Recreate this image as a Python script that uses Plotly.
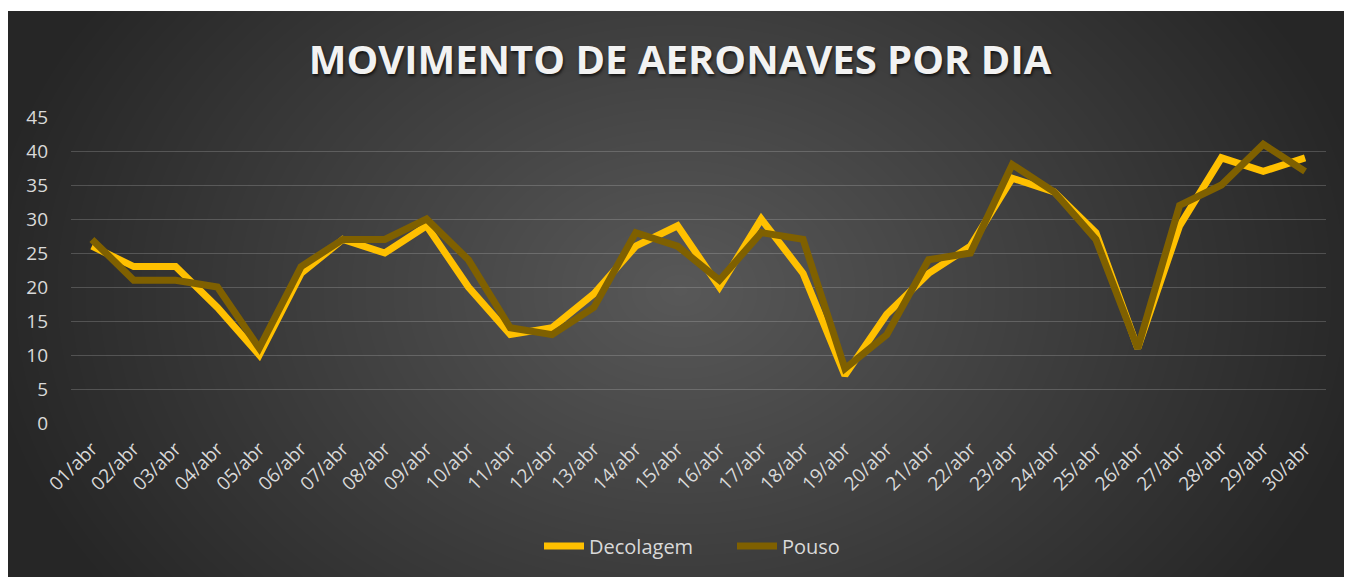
import zlib, struct, base64
import numpy as np
import plotly.graph_objects as go

# ---- data ----
dias = ["01/abr", "02/abr", "03/abr", "04/abr", "05/abr", "06/abr", "07/abr", "08/abr", "09/abr", "10/abr",
        "11/abr", "12/abr", "13/abr", "14/abr", "15/abr", "16/abr", "17/abr", "18/abr", "19/abr", "20/abr",
        "21/abr", "22/abr", "23/abr", "24/abr", "25/abr", "26/abr", "27/abr", "28/abr", "29/abr", "30/abr"]
decolagem = [26, 23, 23, 17, 10, 22, 27, 25, 29, 20,
             13, 14, 19, 26, 29, 20, 30, 22, 7, 16,
             22, 26, 36, 34, 28, 11, 29, 39, 37, 39]
pouso = [27, 21, 21, 20, 11, 23, 27, 27, 30, 24,
         14, 13, 17, 28, 26, 21, 28, 27, 8, 13,
         24, 25, 38, 34, 27, 11, 32, 35, 41, 37]
y_ticks = [0, 5, 10, 15, 20, 25, 30, 35, 40, 45]

# ---- layout geometry (page pixels, figure placed at 8px body margin) ----
OFF = 8
FW, FH = 1352 - OFF, 577 - OFF
L, R, T, B = 71 - OFF, 1326 - OFF, 117 - OFF, 423 - OFF
BG_X0, BG_Y0 = 0, 11 - OFF

def px_x(p):
    return p - OFF

# ---- radial gradient background as PNG ----
def make_png(arr):
    h, w = arr.shape
    raw = b"".join(b"\x00" + arr[i].tobytes() for i in range(h))
    def chunk(tag, data):
        c = struct.pack(">I", len(data)) + tag + data
        return c + struct.pack(">I", zlib.crc32(tag + data) & 0xffffffff)
    png = b"\x89PNG\r\n\x1a\n"
    png += chunk(b"IHDR", struct.pack(">IIBBBBB", w, h, 8, 0, 0, 0, 0))
    png += chunk(b"IDAT", zlib.compress(raw, 9))
    png += chunk(b"IEND", b"")
    return "data:image/png;base64," + base64.b64encode(png).decode()

bw, bh = FW - BG_X0, FH - BG_Y0
X, Y = np.meshgrid(np.arange(bw) + BG_X0 + OFF, np.arange(bh) + BG_Y0 + OFF)
t = np.clip(np.sqrt(((X - 680) / 700.0) ** 2 + ((Y - 290) / 520.0) ** 2), 0, 1)
img = (88 - 50 * t).round().astype(np.uint8)
bg_src = make_png(img)

pw, ph = R - L, B - T

fig = go.Figure()
fig.add_trace(go.Scatter(x=dias, y=decolagem, name="Decolagem", mode="lines",
                         line=dict(color="#FFC000", width=7)))
fig.add_trace(go.Scatter(x=dias, y=pouso, name="Pouso", mode="lines",
                         line=dict(color="#7F6000", width=7)))

fig.add_layout_image(dict(
    source=bg_src, xref="paper", yref="paper",
    x=(BG_X0 - L) / pw, y=(B - BG_Y0) / ph,
    sizex=bw / pw, sizey=bh / ph,
    xanchor="left", yanchor="top", sizing="stretch", layer="below"))

fig.update_layout(
    width=FW, height=FH,
    margin=dict(l=L, r=FW - R, t=T, b=FH - B),
    paper_bgcolor="white", plot_bgcolor="rgba(0,0,0,0)",
    title=dict(text="<b>MOVIMENTO DE AERONAVES POR DIA</b>",
               x=px_x(680) / FW, xref="container", xanchor="center",
               y=1 - (60 - OFF) / FH, yref="container", yanchor="middle",
               font=dict(family="Open Sans", size=40, color="#F2F2F2",
                         shadow="1px 2px 3px rgba(0,0,0,0.7)")),
    font=dict(family="Open Sans", color="#D9D9D9"),
    showlegend=True,
    legend=dict(orientation="h", x=(px_x(732) - L) / pw, xanchor="center",
                y=(B - (546 - OFF)) / ph, yanchor="middle",
                font=dict(size=20, color="#D9D9D9"),
                bgcolor="rgba(0,0,0,0)", itemwidth=40,
                entrywidth=138, entrywidthmode="pixels"),
)
fig.update_xaxes(type="category", range=[-0.5, len(dias) - 0.5],
                 tickangle=-45, tickfont=dict(size=19, color="#D9D9D9"),
                 showgrid=False, showline=False, zeroline=False, ticks="",
                 ticklabelstandoff=10)
fig.update_yaxes(range=[0, 45], tickvals=y_ticks, tickfont=dict(size=19, color="#D9D9D9"),
                 showgrid=True, gridcolor="rgba(217,217,217,0.22)", gridwidth=1.3,
                 zeroline=False, showline=False, ticks="", ticklabelstandoff=22)

fig.write_html("out.html")
